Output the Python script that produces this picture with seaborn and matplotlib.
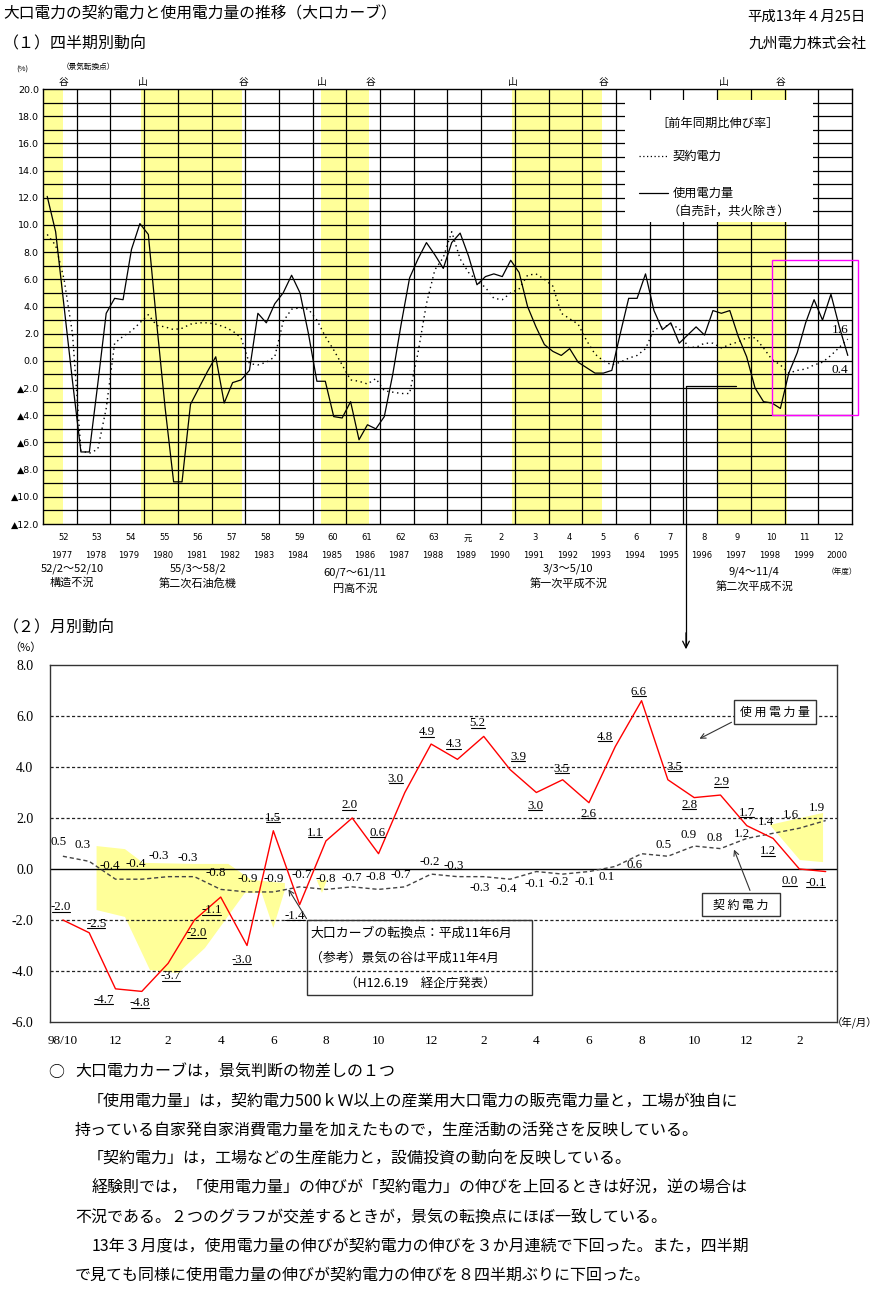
import numpy as np
import pandas as pd
import matplotlib
matplotlib.use("Agg")
import matplotlib.pyplot as plt
import seaborn as sns
from matplotlib.lines import Line2D
from matplotlib.patches import Rectangle, FancyArrowPatch
from matplotlib.transforms import blended_transform_factory, IdentityTransform

# ---------------------------------------------------------------- data
# (1) quarterly, fiscal 1977 Q1 .. fiscal 2000 Q4, y/y growth (%)
usage_q = [12.1, 9.5, 4.0, -1.5,
           -6.7, -6.7, -1.7, 3.5,
           4.6, 4.5, 8.2, 10.1,
           9.3, 2.7, -3.5, -8.9,
           -8.9, -3.2, -2.0, -0.8,
           0.3, -3.1, -1.6, -1.4,
           -0.7, 3.5, 2.8, 4.2,
           5.0, 6.3, 5.0, 2.0,
           -1.5, -1.5, -4.1, -4.2,
           -3.0, -5.8, -4.7, -5.0,
           -4.1, -1.0, 2.7, 6.1,
           7.5, 8.7, 7.8, 6.8,
           8.7, 9.4, 7.7, 5.6,
           6.2, 6.4, 6.2, 7.4,
           6.5, 4.0, 2.5, 1.2,
           0.7, 0.4, 0.9, -0.1,
           -0.5, -0.9, -0.9, -0.7,
           2.0, 4.6, 4.6, 6.4,
           3.7, 2.3, 2.8, 1.3,
           1.9, 2.5, 1.9, 3.7,
           3.5, 3.7, 1.8, 0.3,
           -2.0, -3.0, -3.1, -3.5,
           -0.9, 0.6, 2.8, 4.5,
           3.0, 4.9, 2.5, 0.4]
contract_q = [9.3, 8.5, 6.0, 2.0,
              -6.6, -6.8, -6.5, -3.5,
              1.3, 1.8, 2.2, 2.8,
              3.4, 2.6, 2.5, 2.3,
              2.4, 2.7, 2.8, 2.8,
              2.7, 2.5, 2.2, 1.7,
              -0.2, -0.3, -0.1, 0.3,
              2.9, 3.8, 3.9, 3.8,
              3.0, 1.8, 0.8, -0.3,
              -1.4, -1.5, -1.7, -1.3,
              -2.2, -2.3, -2.4, -2.4,
              0.6, 4.2, 6.7, 7.6,
              9.5, 7.5, 6.5, 5.9,
              5.4, 4.6, 4.5, 5.0,
              5.3, 6.3, 6.4, 6.0,
              5.5, 3.5, 3.1, 2.7,
              1.5, 0.5, 0.0, -0.3,
              -0.1, 0.2, 0.4, 0.9,
              2.3, 2.5, 2.65, 2.4,
              1.0, 1.0, 1.3, 1.3,
              0.95, 1.2, 1.4, 1.7,
              1.7, 0.95, 0.1, -0.3,
              -0.9, -0.7, -0.6, -0.3,
              -0.1, 0.4, 1.0, 1.6]
fy_era = ["52", "53", "54", "55", "56", "57", "58", "59", "60", "61", "62", "63",
          "元", "2", "3", "4", "5", "6", "7", "8", "9", "10", "11", "12"]
fy_ad = ["1977", "1978", "1979", "1980", "1981", "1982", "1983", "1984", "1985",
         "1986", "1987", "1988", "1989", "1990", "1991", "1992", "1993", "1994",
         "1995", "1996", "1997", "1998", "1999", "2000"]
recessions = [((1977, 2), (1977, 10)), ((1980, 3), (1983, 2)), ((1985, 7), (1986, 11)),
              ((1991, 3), (1993, 10)), ((1997, 4), (1999, 4))]
recession_dates = ["52/2～52/10", "55/3～58/2", "60/7～61/11", "3/3～5/10", "9/4～11/4"]
recession_names = ["構造不況", "第二次石油危機", "円高不況", "第一次平成不況", "第二次平成不況"]
turning_points = [("谷", (1977, 10)), ("山", (1980, 2)), ("谷", (1983, 2)), ("山", (1985, 6)),
                  ("谷", (1986, 11)), ("山", (1991, 2)), ("谷", (1993, 10)), ("山", (1997, 5)),
                  ("谷", (1999, 1))]

# (2) monthly, 1998/10 .. 2001/3
usage_m = [-2.0, -2.5, -4.7, -4.8, -3.7, -2.0, -1.1, -3.0, 1.5, -1.4, 1.1, 2.0, 0.6, 3.0, 4.9,
           4.3, 5.2, 3.9, 3.0, 3.5, 2.6, 4.8, 6.6, 3.5, 2.8, 2.9, 1.7, 1.2, 0.0, -0.1]
contract_m = [0.5, 0.3, -0.4, -0.4, -0.3, -0.3, -0.8, -0.9, -0.9, -0.7, -0.8, -0.7, -0.8, -0.7, -0.2,
              -0.3, -0.3, -0.4, -0.1, -0.2, -0.1, 0.1, 0.6, 0.5, 0.9, 0.8, 1.2, 1.4, 1.6, 1.9]
month_ticks = ["98/10", "12", "2", "4", "6", "8", "10", "12", "2", "4", "6", "8", "10", "12", "2"]
# highlighted (yellow) regions, (month index, %)
shade1_x = [1.28, 2.36, 3.05, 5.02, 6.29, 7.17, 8.44, 8.44, 8.0, 7.56, 6.92, 5.40, 4.38, 3.31, 2.36, 1.28]
shade1_y = [0.90, 0.78, 0.24, 0.20, 0.20, -0.43, -0.55, -0.82, -2.31, -0.94, -0.94, -3.10, -4.08, -3.96, -1.88, -1.61]
shade2_x = [9.65, 10.04, 9.85]
shade2_y = [-0.43, -0.43, -0.94]
shade3_x = [26.88, 28.9, 28.9, 28.02]
shade3_y = [1.73, 2.2, 0.27, 0.35]

# ---------------------------------------------------------------- layout / style
u_dx = [-2, 7, -12, -2, 3, 2, -9, -5, 0, -5, -11, -3, -1, -9, -4, -4, -6, 8, -1, -1, -1, -10, -3, 7, -5, 1, 0, -5, -10, -10]
u_dy = [13, 9, -11, -12, -13, -13, -13, -14, 13, -11, 8, 13, 21, 14, 12, 15, 13, 13, -13, 11, -11, 10, 9, 13, -7, 13, 13, -13, -12, -11]
c_dx = [-4, -7, -6, -6, -9, -7, -5, 1, 0, 2, 0, 0, -3, -4, -1, -4, -4, -3, -2, -4, -4, -9, -7, -4, -6, -6, -5, -7, -8, -9]
c_dy = [14, 16, 13, 15, 21, 19, 16, 13, 13, 12, 10, 9, 12, 12, 12, 11, -11, -10, -12, -8, -10, -11, -11, 11, 11, 11, 4, 11, 13, 13]

sns.set_theme(style="white")
JP = ["Noto Sans CJK JP", "DejaVu Sans"]
SERIF = ["Liberation Serif", "Noto Sans CJK JP"]
plt.rcParams["font.family"] = JP
plt.rcParams["axes.unicode_minus"] = False
plt.rcParams["text.color"] = "black"
plt.rcParams["xtick.color"] = "black"
plt.rcParams["ytick.color"] = "black"

W, H = 881, 1300
YEL = "#FFFF99"


def fx(px):
    return px / W


def fy(py):
    return 1 - py / H


def fypos(ym, end=False):
    y, m = ym
    return (y - 1977) + (m - 4 + (1 if end else 0)) / 12


fig = plt.figure(figsize=(W / 100, H / 100), dpi=100)
fig.patch.set_facecolor("white")

# ---------------------------------------------------------------- header
fig.text(fx(3), fy(14), "大口電力の契約電力と使用電力量の推移（大口カーブ）", fontsize=11.3, va="center", ha="left")
fig.text(fx(866), fy(17), "平成13年４月25日", fontsize=10.4, va="center", ha="right")
fig.text(fx(3), fy(44), "（１）四半期別動向", fontsize=11.5, va="center", ha="left")
fig.text(fx(866), fy(44), "九州電力株式会社", fontsize=10.6, va="center", ha="right")

# ---------------------------------------------------------------- (1) quarterly
ax1 = fig.add_axes([fx(43), fy(524), (852 - 43) / W, (524 - 89) / H])
ax1.set_facecolor("white")
ax1.set_xlim(0, 24)
ax1.set_ylim(-12, 20)
for s, e in recessions:
    ax1.axvspan(max(fypos(s), 0), fypos(e, end=True), color=YEL, lw=0, zorder=0)
for v in range(-11, 20):
    ax1.axhline(v, color="black", lw=0.9, zorder=1)
for k in range(1, 24):
    ax1.axvline(k, color="black", lw=0.9, zorder=1)
# legend panel
ax1.add_patch(Rectangle((fx(625), fy(222)), (813 - 625) / W, (222 - 100) / H,
                        transform=fig.transFigure, facecolor="white", edgecolor="none", zorder=2))

dfq = pd.DataFrame({"x": np.arange(len(usage_q)) / 4 + 0.125, "usage": usage_q, "contract": contract_q})
sns.lineplot(data=dfq, x="x", y="contract", ax=ax1, color="black", lw=1.0,
             linestyle=(0, (1, 2.6)), zorder=4)
sns.lineplot(data=dfq, x="x", y="usage", ax=ax1, color="black", lw=0.9, zorder=5)
for sp in ax1.spines.values():
    sp.set_color("black")
    sp.set_linewidth(1)
ax1.set_xlabel("")
ax1.set_ylabel("")
ax1.set_xticks([])
yt = np.arange(-12, 21, 2)
ax1.set_yticks(yt)
ax1.set_yticklabels([f"{v:.1f}" if v >= 0 else f"▲{abs(v):.1f}" for v in yt],
                    fontsize=6.8, family=["DejaVu Sans"])
ax1.tick_params(axis="y", length=0, pad=3)

tr1 = blended_transform_factory(ax1.transData, fig.transFigure)
fig.text(fx(22), fy(70), "(%)", fontsize=5.5, ha="center", va="center")
fig.text(fx(88), fy(67), "（景気転換点）", fontsize=5.5, ha="center", va="center")
for lab, ym in turning_points:
    ax1.text(fypos(ym) + 0.12, fy(82), lab, transform=tr1, fontsize=7, ha="center", va="center", clip_on=False)
for k in range(24):
    ax1.text(k + 0.6, fy(538), fy_era[k], transform=tr1, fontsize=6, ha="center", va="center",
             family=["DejaVu Sans", "Noto Sans CJK JP"])
    ax1.text(k + 0.55, fy(556), fy_ad[k], transform=tr1, fontsize=6, ha="center", va="center",
             family=["DejaVu Sans"])
rec_label_x = [0.86, 4.6, 9.26, 15.58, 21.1]
rec_label_y = [(569, 583), (569, 584), (573, 589), (569, 584), (572, 587)]
for k in range(5):
    ax1.text(rec_label_x[k], fy(rec_label_y[k][0]), recession_dates[k], transform=tr1, fontsize=8,
             ha="center", va="center")
    ax1.text(rec_label_x[k], fy(rec_label_y[k][1]), recession_names[k], transform=tr1, fontsize=8,
             ha="center", va="center")
fig.text(fx(842), fy(572), "（年度）", fontsize=5.5, ha="center", va="center")

# legend text
fig.text(fx(718), fy(123), "［前年同期比伸び率］", fontsize=8.8, ha="center", va="center")
fig.add_artist(Line2D([fx(639), fx(668)], [fy(156), fy(156)], color="black", lw=0.9,
                      linestyle=(0, (1, 2)), transform=fig.transFigure))
fig.text(fx(673), fy(156), "契約電力", fontsize=8.8, ha="left", va="center")
fig.add_artist(Line2D([fx(639), fx(668)], [fy(193), fy(193)], color="black", lw=0.9,
                      transform=fig.transFigure))
fig.text(fx(673), fy(193), "使用電力量", fontsize=8.8, ha="left", va="center")
fig.text(fx(668), fy(212), "（自売計，共火除き）", fontsize=8.8, ha="left", va="center")

# end value labels and magenta frame
fig.text(fx(840), fy(330), "1.6", fontsize=9.5, ha="center", va="center", family=SERIF)
fig.text(fx(840), fy(370), "0.4", fontsize=9.5, ha="center", va="center", family=SERIF)
fig.add_artist(Rectangle((fx(772), fy(415)), (858 - 772) / W, (415 - 260) / H, transform=fig.transFigure,
                         fill=False, edgecolor="#FF00FF", lw=1))
# connector to the monthly chart
fig.add_artist(Line2D([fx(736), fx(686), fx(686)], [fy(386), fy(386), fy(645)], color="black", lw=0.9,
                      transform=fig.transFigure))
fig.add_artist(FancyArrowPatch((fx(686), fy(630)), (fx(686), fy(652)), transform=fig.transFigure,
                               arrowstyle="->", mutation_scale=12, lw=0.9, color="black"))

# ---------------------------------------------------------------- (2) monthly
fig.text(fx(3), fy(628), "（２）月別動向", fontsize=11.5, va="center", ha="left")
ax2 = fig.add_axes([fx(50), fy(1022), (837 - 50) / W, (1022 - 665) / H])
ax2.set_facecolor("white")
ax2.set_xlim(-0.49, 29.43)
ax2.set_ylim(-6, 8)
ax2.fill(shade1_x, shade1_y, color=YEL, lw=0, zorder=1)
ax2.fill(shade2_x, shade2_y, color=YEL, lw=0, zorder=1)
ax2.fill(shade3_x, shade3_y, color=YEL, lw=0, zorder=1)
for v in [6, 4, 2, -2, -4]:
    ax2.axhline(v, color="#222222", lw=0.9, linestyle=(0, (2.5, 1.8)), zorder=2)
ax2.axhline(0, color="black", lw=1.0, zorder=2)

dfm = pd.DataFrame({"m": np.arange(len(usage_m)), "usage": usage_m, "contract": contract_m})
sns.lineplot(data=dfm, x="m", y="contract", ax=ax2, color="#444444", lw=1.0,
             linestyle=(0, (3, 2)), zorder=3)
sns.lineplot(data=dfm, x="m", y="usage", ax=ax2, color="#FF0000", lw=1.0, zorder=4)
for sp in ax2.spines.values():
    sp.set_color("#333333")
    sp.set_linewidth(1)
ax2.set_xlabel("")
ax2.set_ylabel("")
ax2.set_xticks(np.arange(0, 30, 2))
ax2.set_xticklabels(month_ticks, fontsize=9.5, family=SERIF)
ax2.set_yticks(np.arange(-6, 9, 2))
ax2.set_yticklabels([f"{v:.1f}" for v in np.arange(-6, 9, 2)], fontsize=10, family=SERIF)
ax2.tick_params(axis="x", length=0, pad=9)
ax2.tick_params(axis="y", length=0, pad=12)
fig.text(fx(25), fy(648), "（%）", fontsize=8, ha="center", va="center")
fig.text(fx(855), fy(1022), "（年/月）", fontsize=7.5, ha="center", va="center")

u_texts = []
for i, v in enumerate(usage_m):
    t = ax2.annotate(f"{v:.1f}", (i, v), xytext=(u_dx[i], u_dy[i]), textcoords="offset pixels",
                     ha="center", va="center", fontsize=9.3, family=SERIF, zorder=6)
    u_texts.append(t)
for i, v in enumerate(contract_m):
    ax2.annotate(f"{v:.1f}", (i, v), xytext=(c_dx[i], c_dy[i]), textcoords="offset pixels",
                 ha="center", va="center", fontsize=9.3, family=SERIF, zorder=6)

# annotation boxes
fig.add_artist(Rectangle((fx(307), fy(995)), (532 - 307) / W, (995 - 920) / H, transform=fig.transFigure,
                         fill=False, edgecolor="#333333", lw=1))
fig.text(fx(310), fy(933), "大口カーブの転換点：平成11年6月", fontsize=9.3, ha="left", va="center")
fig.text(fx(310), fy(958), "（参考）景気の谷は平成11年4月", fontsize=9.3, ha="left", va="center")
fig.text(fx(345), fy(983), "（H12.6.19　経企庁発表）", fontsize=9.0, ha="left", va="center")
fig.add_artist(FancyArrowPatch((fx(308), fy(921)), (fx(287), fy(887)), transform=fig.transFigure,
                               arrowstyle="->", mutation_scale=9, lw=0.8, color="#333333"))

fig.add_artist(Rectangle((fx(734), fy(724)), (816 - 734) / W, (724 - 700) / H, transform=fig.transFigure,
                         facecolor="white", edgecolor="#333333", lw=1))
fig.text(fx(775), fy(712), "使 用 電 力 量", fontsize=8.6, ha="center", va="center")
fig.add_artist(FancyArrowPatch((fx(734), fy(721)), (fx(697), fy(740)), transform=fig.transFigure,
                               arrowstyle="->", mutation_scale=9, lw=0.8, color="#333333"))

fig.add_artist(Rectangle((fx(702), fy(916)), (780 - 702) / W, (916 - 893) / H, transform=fig.transFigure,
                         facecolor="white", edgecolor="#333333", lw=1))
fig.text(fx(741), fy(905), "契 約 電 力", fontsize=8.6, ha="center", va="center")
fig.add_artist(FancyArrowPatch((fx(751), fy(893)), (fx(733), fy(847)), transform=fig.transFigure,
                               arrowstyle="->", mutation_scale=9, lw=0.8, color="#333333"))

# ---------------------------------------------------------------- commentary
lines = [
    (48, 1072, "○"),
    (75, 1072, "大口電力カーブは，景気判断の物差しの１つ"),
    (88, 1101, "「使用電力量」は，契約電力500ｋＷ以上の産業用大口電力の販売電力量と，工場が独自に"),
    (75, 1131, "持っている自家発自家消費電力量を加えたもので，生産活動の活発さを反映している。"),
    (88, 1159, "「契約電力」は，工場などの生産能力と，設備投資の動向を反映している。"),
    (92, 1188, "経験則では，「使用電力量」の伸びが「契約電力」の伸びを上回るときは好況，逆の場合は"),
    (75, 1217, "不況である。２つのグラフが交差するときが，景気の転換点にほぼ一致している。"),
    (92, 1246, "13年３月度は，使用電力量の伸びが契約電力の伸びを３か月連続で下回った。また，四半期"),
    (75, 1275, "で見ても同様に使用電力量の伸びが契約電力の伸びを８四半期ぶりに下回った。"),
]
for x, y, s in lines:
    fig.text(fx(x), fy(y), s, fontsize=11.5, ha="left", va="center")

# underline the usage labels
fig.canvas.draw()
rend = fig.canvas.get_renderer()
for t in u_texts:
    bb = t.get_window_extent(rend)
    fig.add_artist(Line2D([bb.x0 + 1, bb.x1 - 1], [bb.y0 + 1.5, bb.y0 + 1.5], transform=IdentityTransform(),
                          color="black", lw=0.8))

fig.savefig("out.png", dpi=100, facecolor="white")
